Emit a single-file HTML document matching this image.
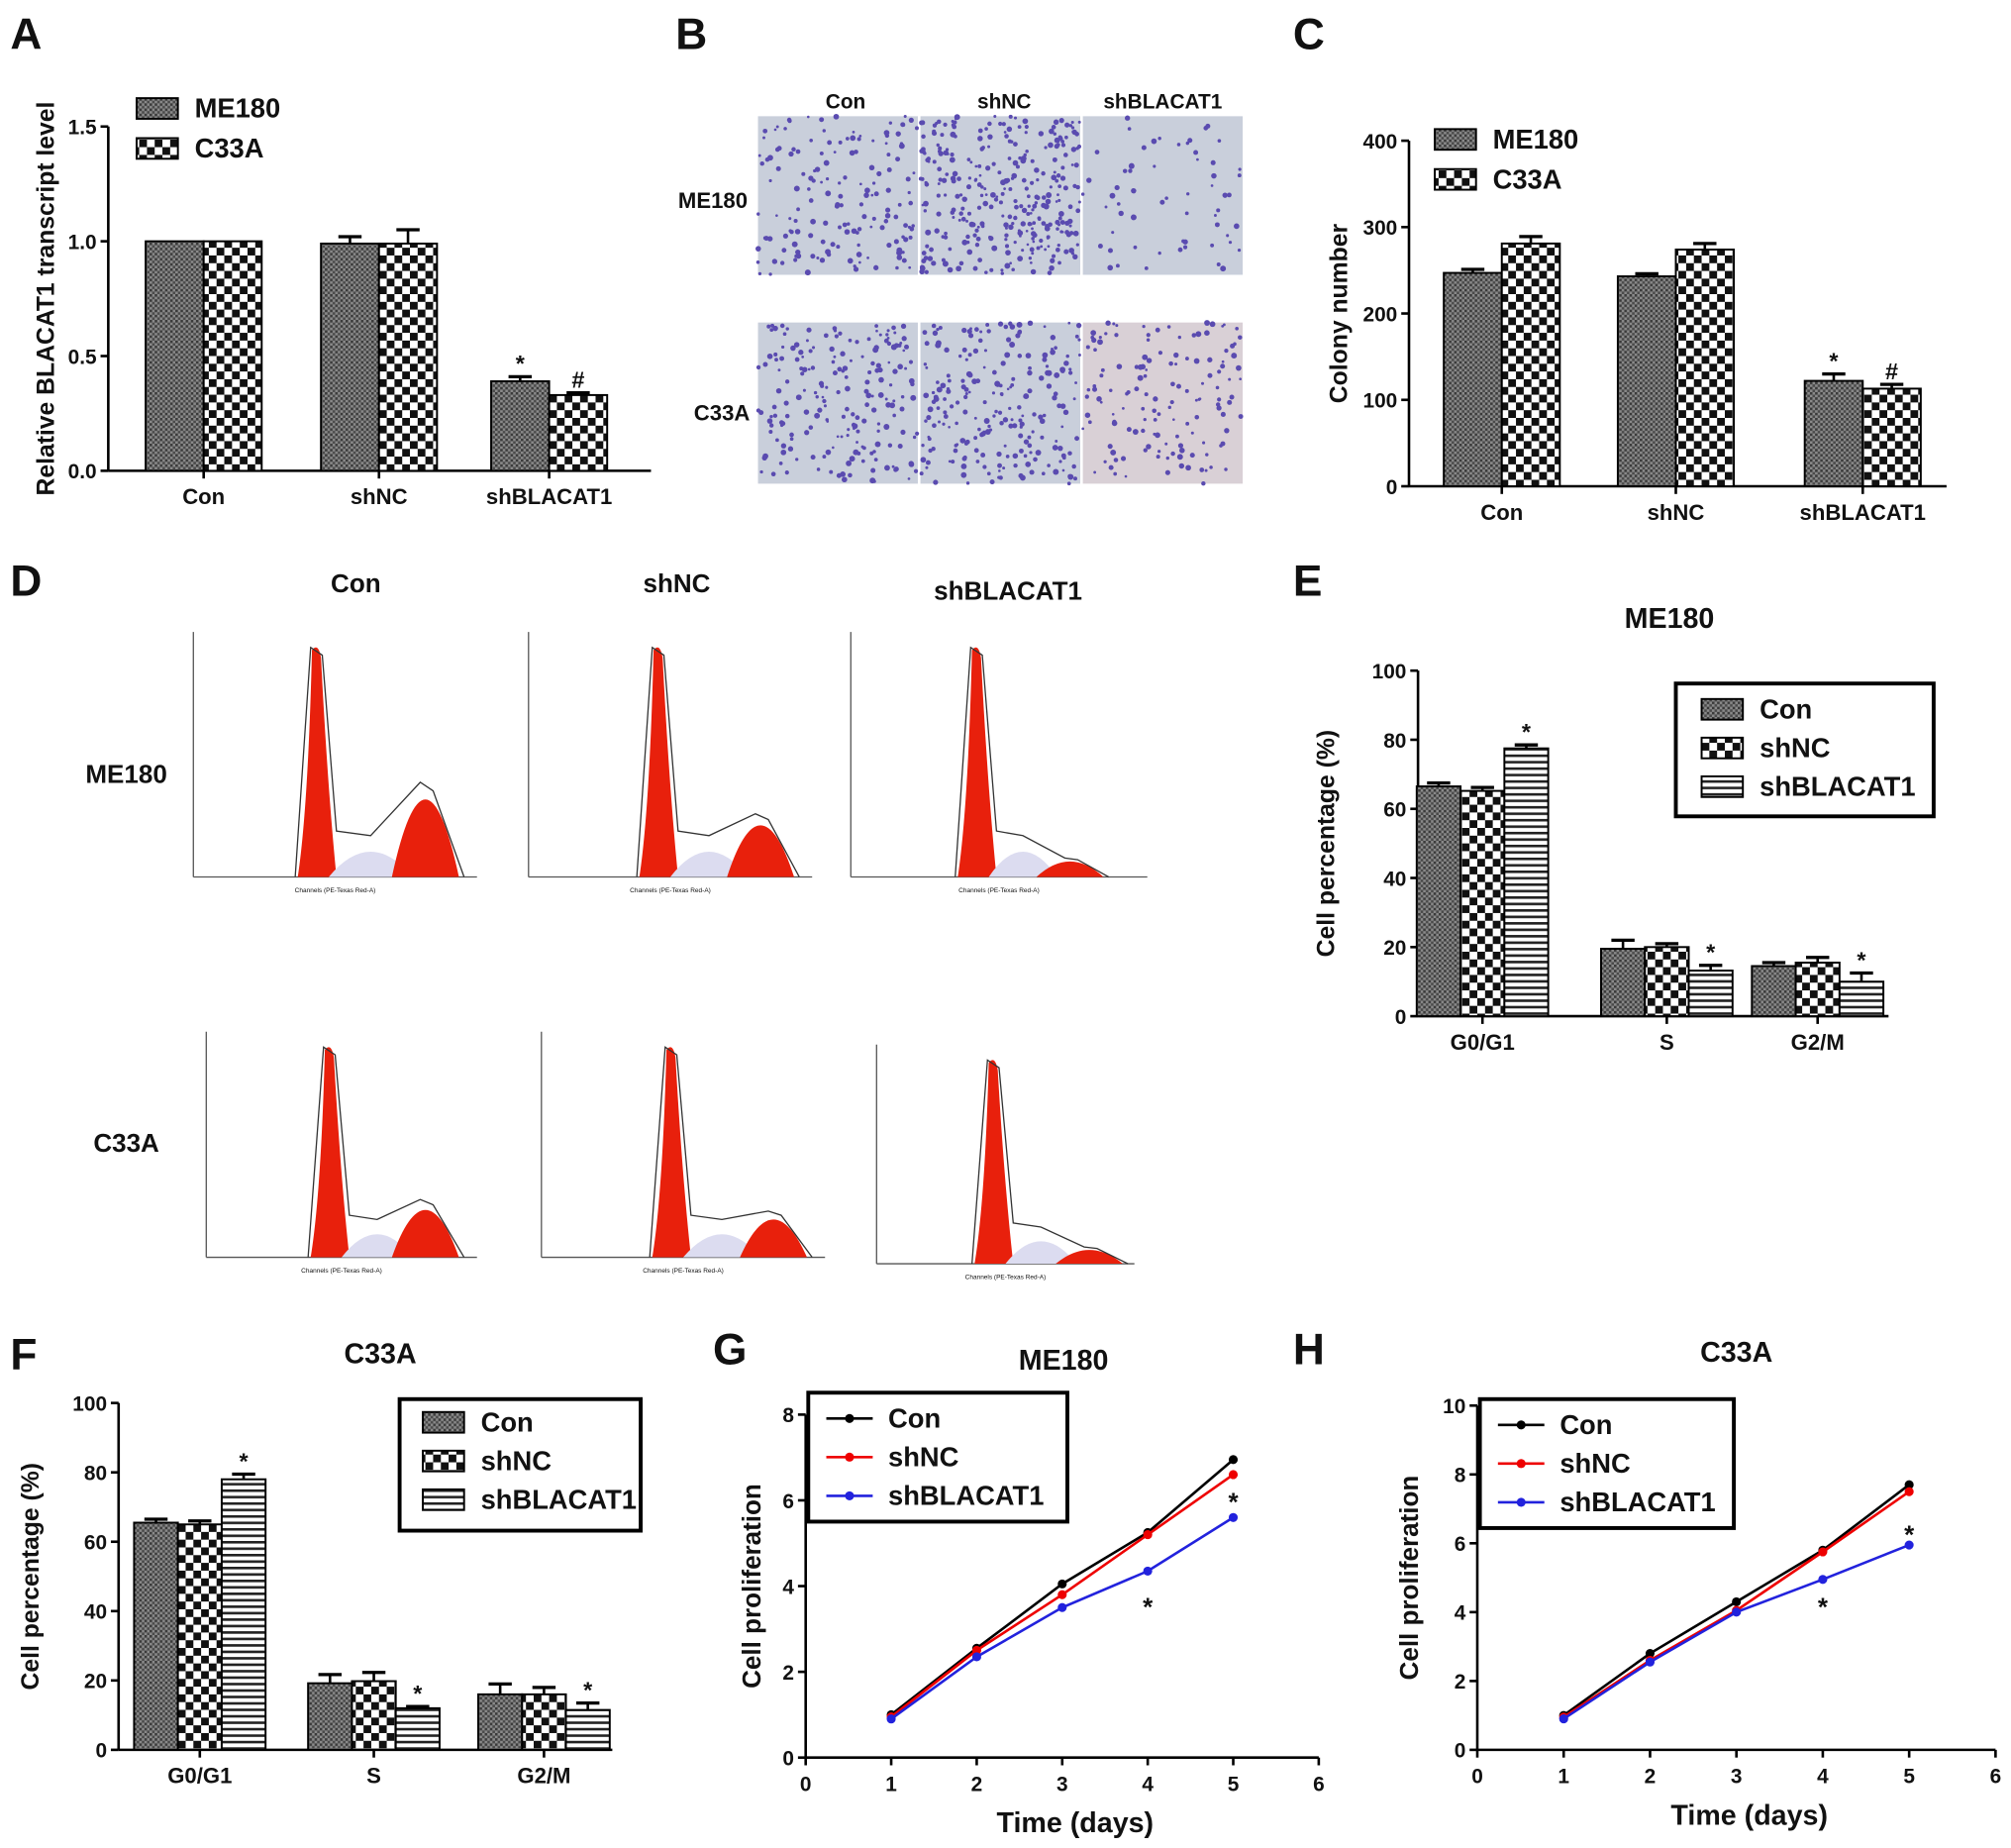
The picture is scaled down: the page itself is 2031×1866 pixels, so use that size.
<!DOCTYPE html>
<html><head><meta charset="utf-8"><style>
html,body{margin:0;padding:0;background:#fff}
svg{display:block;font-family:"Liberation Sans",Arial,sans-serif}
</style></head><body>
<svg id="fig" width="2031" height="1866" viewBox="0 0 1560 1433" xmlns="http://www.w3.org/2000/svg">
<defs>
<pattern id="pDense" width="4" height="4" patternUnits="userSpaceOnUse"><rect width="4" height="4" fill="#8a8a8a"/><rect width="2" height="2" fill="#3a3a3a"/><rect x="2" y="2" width="2" height="2" fill="#4a4a4a"/></pattern>
<pattern id="pCheck" width="12" height="12" patternUnits="userSpaceOnUse"><rect width="12" height="12" fill="#fff"/><rect width="6" height="6" fill="#111"/><rect x="6" y="6" width="6" height="6" fill="#111"/></pattern>
<pattern id="pStripe" width="6" height="5" patternUnits="userSpaceOnUse"><rect width="6" height="5" fill="#fff"/><rect width="6" height="2" fill="#222"/></pattern>
</defs>
<g id="root"></g>
</svg>
<script>
// ---------- Data ----------
const aCats = ["Con","shNC","shBLACAT1"];
const aME180 = [1.0, 0.99, 0.39];
const aME180Err = [0.0, 0.03, 0.02];
const aC33A = [1.0, 0.99, 0.33];
const aC33AErr = [0.0, 0.06, 0.01];
const aTicks = ["0.0","0.5","1.0","1.5"];

const cCats = ["Con","shNC","shBLACAT1"];
const cME180 = [247, 243, 122];
const cME180Err = [4, 3, 8];
const cC33A = [281, 274, 113];
const cC33AErr = [8, 7, 5];
const cTicks = ["0","100","200","300","400"];

const phaseCats = ["G0/G1","S","G2/M"];
const eCon = [66.5, 19.5, 14.5];
const eShNC = [65.2, 20.0, 15.5];
const eShB = [77.5, 13.2, 10.0];
const eErr = [1, 2.5, 1];
const fCon = [65.5, 19.2, 16.0];
const fShNC = [65.0, 19.8, 16.0];
const fShB = [78.0, 12.0, 11.5];
const fErr = [1, 2.5, 3];
const pctTicks = ["0","20","40","60","80","100"];

const days = [1,2,3,4,5];
const gCon = [1.0, 2.55, 4.05, 5.25, 6.95];
const gShNC = [0.95, 2.5, 3.8, 5.2, 6.6];
const gShB = [0.9, 2.35, 3.5, 4.35, 5.6];
const hCon = [1.0, 2.8, 4.3, 5.8, 7.7];
const hShNC = [0.95, 2.6, 4.05, 5.75, 7.5];
const hShB = [0.9, 2.55, 4.0, 4.95, 5.95];
const xDayTicks = ["0","1","2","3","4","5","6"];

// ---------- helpers ----------
const NS="http://www.w3.org/2000/svg";
const root=document.getElementById('root');
function el(tag,attrs,parent){const e=document.createElementNS(NS,tag);for(const k in attrs)e.setAttribute(k,attrs[k]);(parent||root).appendChild(e);return e;}
function txt(x,y,s,size,opts,parent){opts=opts||{};const t=el('text',{x:x,y:y,'font-size':size,'font-weight':opts.w||'bold','text-anchor':opts.a||'middle',fill:opts.f||'#111'},parent);if(opts.rot)t.setAttribute('transform','rotate(-90 '+x+' '+y+')');t.textContent=s;return t;}

function yAxis(g,x,y0,y1,ticks,vmax,size,lx){
  el('line',{x1:x,y1:y0,x2:x,y2:y1,stroke:'#000','stroke-width':2},g);
  ticks.forEach((t,i)=>{const v=parseFloat(t);const y=y0-(y0-y1)*v/vmax;
    el('line',{x1:x-6,y1:y,x2:x,y2:y,stroke:'#000','stroke-width':2},g);
    txt(x-9,y+6,t,size,{a:'end'},g);});
}

function barChart(opts){
  const g=el('g',{});
  
  
  const sy=v=>opts.y0-(opts.y0-opts.y1)*v/opts.vmax;
  yAxis(g,opts.x0,opts.y0,opts.y1,opts.ticks,opts.vmax,16);
  el('line',{x1:opts.x0,y1:opts.y0,x2:opts.xEnd,y2:opts.y0,stroke:'#000','stroke-width':2},g);
  const n=opts.series.length;
  opts.cats.forEach((c,i)=>{
    const cx=opts.centers[i];
    el('line',{x1:cx,y1:opts.y0,x2:cx,y2:opts.y0+6,stroke:'#000','stroke-width':2},g);
    txt(cx,opts.y0+26,c,17,{},g);
    opts.series.forEach((s,j)=>{
      const x=cx-n*opts.bw/2+j*opts.bw;const v=s.vals[i];const y=sy(v);
      const r=el('rect',{x:x,y:y,width:opts.bw,height:opts.y0-y,fill:s.fill,stroke:'#000','stroke-width':1.5},g);
      
      
      const e=s.err[i];
      if(e>0){const ye=sy(v+e);el('line',{x1:x+opts.bw/2,y1:y,x2:x+opts.bw/2,y2:ye,stroke:'#000','stroke-width':2},g);
        el('line',{x1:x+opts.bw/2-9,y1:ye,x2:x+opts.bw/2+9,y2:ye,stroke:'#000','stroke-width':2.5},g);}
      if(s.mark&&s.mark[i]){txt(x+opts.bw/2,sy(v+e)-4,s.mark[i],18,{},g);}
    });
  });
  txt(opts.ylx,(opts.y0+opts.y1)/2,opts.ylabel,19,{rot:true},g);
  return g;
}

function legend(g,x,y,items,dy,box){
  const lg=el('g',{},g);
  
  
  if(box)el('rect',{x:box[0],y:box[1],width:box[2],height:box[3],fill:'#fff',stroke:'#000','stroke-width':3},lg);
  items.forEach((it,i)=>{const yy=y+i*dy;
    const e=el('g',{},lg);
    
    
    if(it.fill) el('rect',{x:x,y:yy-8,width:32,height:16,fill:it.fill,stroke:'#000','stroke-width':1.5},e);
    else {el('line',{x1:x,y1:yy,x2:x+36,y2:yy,stroke:it.color,'stroke-width':2},e);el('circle',{cx:x+18,cy:yy,r:3.5,fill:it.color},e);}
    txt(x+(it.fill?45:48),yy+7,it.label,21,{a:'start'},e);
  });
}

function panelLabel(x,y,s){const t=txt(x,y,s,34,{a:'start'});}

// ---------- A ----------
panelLabel(8,38,'A');
const gA=barChart({name:'chart-a',x0:84,y0:365,y1:98,vmax:1.5,xEnd:505,ticks:aTicks,cats:aCats,centers:[158,294,426],bw:45,
  series:[{key:'me180',vals:aME180,err:aME180Err,fill:'url(#pDense)',mark:['','','*']},{key:'c33a',vals:aC33A,err:aC33AErr,fill:'url(#pCheck)',mark:['','','#']}],
  ylabel:'Relative BLACAT1 transcript level',ylx:42});
legend(gA,106,84,[{label:'ME180',fill:'url(#pDense)'},{label:'C33A',fill:'url(#pCheck)'}],31);

// ---------- C ----------
panelLabel(1003,38,'C');
const gC=barChart({name:'chart-c',x0:1093,y0:377,y1:109,vmax:400,xEnd:1510,ticks:cTicks,cats:cCats,centers:[1165,1300,1445],bw:45,
  series:[{key:'me180',vals:cME180,err:cME180Err,fill:'url(#pDense)',mark:['','','*']},{key:'c33a',vals:cC33A,err:cC33AErr,fill:'url(#pCheck)',mark:['','','#']}],
  ylabel:'Colony number',ylx:1045});
legend(gC,1113,108,[{label:'ME180',fill:'url(#pDense)'},{label:'C33A',fill:'url(#pCheck)'}],31);

// ---------- E ----------
panelLabel(1003,462,'E');
const gE=barChart({name:'chart-e',x0:1100,y0:788,y1:520,vmax:100,xEnd:1465,ticks:pctTicks,cats:phaseCats,centers:[1150,1293,1410],bw:34,
  series:[{key:'con',vals:eCon,err:[1,2.5,1],fill:'url(#pDense)'},{key:'shnc',vals:eShNC,err:[1,1,1.5],fill:'url(#pCheck)'},{key:'shblacat1',vals:eShB,err:[1,1.5,2.5],fill:'url(#pStripe)',mark:['*','*','*']}],
  ylabel:'Cell percentage (%)',ylx:1035});
txt(1295,487,'ME180',22,{});
legend(gE,1320,550,[{label:'Con',fill:'url(#pDense)'},{label:'shNC',fill:'url(#pCheck)'},{label:'shBLACAT1',fill:'url(#pStripe)'}],30,[1300,530,200,103]);

// ---------- F ----------
panelLabel(8,1062,'F');
const gF=barChart({name:'chart-f',x0:92,y0:1357,y1:1088,vmax:100,xEnd:475,ticks:pctTicks,cats:phaseCats,centers:[155,290,422],bw:34,
  series:[{key:'con',vals:fCon,err:[1,2.5,3],fill:'url(#pDense)'},{key:'shnc',vals:fShNC,err:[1,2.5,2],fill:'url(#pCheck)'},{key:'shblacat1',vals:fShB,err:[1.5,0.5,2],fill:'url(#pStripe)',mark:['*','*','*']}],
  ylabel:'Cell percentage (%)',ylx:30});
txt(295,1057,'C33A',22,{});
legend(gF,328,1103,[{label:'Con',fill:'url(#pDense)'},{label:'shNC',fill:'url(#pCheck)'},{label:'shBLACAT1',fill:'url(#pStripe)'}],30,[310,1085,187,102]);

// ---------- line charts ----------
function lineChart(o){
  const g=el('g',{});
  
  
  const sx=v=>o.x0+(o.x1-o.x0)*v/6, sy=v=>o.y0-(o.y0-o.y1)*v/o.vmax;
  el('line',{x1:o.x0,y1:o.y0,x2:o.x0,y2:o.y1,stroke:'#000','stroke-width':2},g);
  el('line',{x1:o.x0,y1:o.y0,x2:o.x1,y2:o.y0,stroke:'#000','stroke-width':2},g);
  o.yticks.forEach(t=>{const y=sy(+t);el('line',{x1:o.x0-6,y1:y,x2:o.x0,y2:y,stroke:'#000','stroke-width':2},g);txt(o.x0-9,y+6,t,16,{a:'end'},g);});
  xDayTicks.forEach(t=>{const x=sx(+t);el('line',{x1:x,y1:o.y0,x2:x,y2:o.y0+6,stroke:'#000','stroke-width':2},g);txt(x,o.y0+26,t,16,{},g);});
  o.series.forEach(s=>{
    const p=el('polyline',{points:days.map((d,i)=>sx(d)+','+sy(s.vals[i])).join(' '),fill:'none',stroke:s.color,'stroke-width':2},g);
    
    
    days.forEach((d,i)=>{const c=el('circle',{cx:sx(d),cy:sy(s.vals[i]),r:3.5,fill:s.color},g);
      
      });
  });
  o.stars.forEach(st=>txt(sx(st[0]),sy(st[1])+8,'*',20,{},g));
  txt(o.title[0],o.title[1],o.title[2],22,{},g);
  txt((o.x0+o.x1)/2+10,o.y0+58,'Time (days)',22,{},g);
  txt(o.ylx,(o.y0+o.y1)/2,'Cell proliferation',20,{rot:true},g);
  legend(g,o.box[0]+14,o.box[1]+20,[{label:'Con',color:'#000'},{label:'shNC',color:'#e00'},{label:'shBLACAT1',color:'#22d'}],30,o.box);
}
panelLabel(553,1058,'G');
lineChart({name:'chart-g',x0:625,x1:1023,y0:1363,y1:1097,vmax:8,yticks:["0","2","4","6","8"],
  series:[{key:'con',vals:gCon,color:'#000'},{key:'shnc',vals:gShNC,color:'#e00'},{key:'shblacat1',vals:gShB,color:'#22d'}],
  stars:[[4,3.55],[5,6.0]],title:[825,1062,'ME180'],ylx:590,box:[627,1080,201,100]});
panelLabel(1003,1058,'H');
lineChart({name:'chart-h',x0:1146,x1:1548,y0:1357,y1:1090,vmax:10,yticks:["0","2","4","6","8","10"],
  series:[{key:'con',vals:hCon,color:'#000'},{key:'shnc',vals:hShNC,color:'#e00'},{key:'shblacat1',vals:hShB,color:'#22d'}],
  stars:[[4,4.2],[5,6.3]],title:[1347,1056,'C33A'],ylx:1100,box:[1148,1085,197,100]});

// ---------- B (micrographs) ----------
panelLabel(524,38,'B');
(function(){
  const g=el('g',{});
  ['Con','shNC','shBLACAT1'].forEach((s,i)=>txt(656+i*123,84,s,16,{},g));
  txt(553,161,'ME180',17,{},g);txt(560,326,'C33A',17,{},g);
  let seed=7;const rnd=()=>{seed=(seed*16807)%2147483647;return seed/2147483647;};
  const dens=[[160,330,60],[200,230,140]];
  [[90,213],[250,375]].forEach((r,ri)=>{
    [588,714,840].forEach((x,ci)=>{
      const w=124,h=r[1]-r[0];
      el('rect',{x:x,y:r[0],width:w,height:h,fill:(ri==1&&ci==2)?'#d9d0d6':'#c9cfdb'},g);
      const n=dens[ri][ci];
      for(let k=0;k<n;k++)el('circle',{cx:x+rnd()*w,cy:r[0]+rnd()*h,r:1+rnd()*1.3,fill:'#5a4bb0'},g);
    });
  });
})();

// ---------- D (flow cytometry) ----------
panelLabel(8,462,'D');
(function(){
  const g=el('g',{});
  txt(276,459,'Con',20,{},g);txt(525,459,'shNC',20,{},g);txt(782,465,'shBLACAT1',20,{},g);
  txt(98,607,'ME180',20,{},g);txt(98,893,'C33A',20,{},g);
  const cells=[[150,370,490,680,245,330,0.75],[410,630,490,680,510,590,0.5],[660,890,490,680,757,830,0.15],
               [160,370,800,975,255,330,0.5],[420,640,800,975,520,600,0.4],[680,880,810,980,770,845,0.15]];
  cells.forEach(c=>{
    const [x0,x1,yt,yb,p1,p2,r]=c;
    el('line',{x1:x0,y1:yt,x2:x0,y2:yb,stroke:'#555','stroke-width':1},g);
    el('line',{x1:x0,y1:yb,x2:x1,y2:yb,stroke:'#555','stroke-width':1},g);
    const H=yb-yt-12;
    el('path',{d:`M${p1-14},${yb} Q${p1-6},${yb-H*0.3} ${p1-3},${yt+14} Q${p1+2},${yt+8} ${p1+4},${yt+20} Q${p1+9},${yb-H*0.4} ${p1+16},${yb} Z`,fill:'#e8200c'},g);
    el('path',{d:`M${p1+10},${yb} Q${(p1+p2)/2},${yb-H*0.22} ${p2-10},${yb} Z`,fill:'#dcdcf0'},g);
    el('path',{d:`M${p2-26},${yb} Q${p2},${yb-H*r*0.9} ${p2+26},${yb} Z`,fill:'#e8200c'},g);
    el('path',{d:`M${p1-16},${yb} L${p1-4},${yt+12} L${p1+5},${yt+18} L${p1+16},${yb-H*0.2} L${(p1+p2)/2},${yb-H*0.18} L${p2-4},${yb-H*r*0.55} L${p2+6},${yb-H*r*0.5} L${p2+30},${yb}`,fill:'none',stroke:'#333','stroke-width':1},g);
    txt((x0+x1)/2,yb+12,'Channels (PE-Texas Red-A)',5,{w:'normal'},g);
  });
})();
</script>
</body></html>
